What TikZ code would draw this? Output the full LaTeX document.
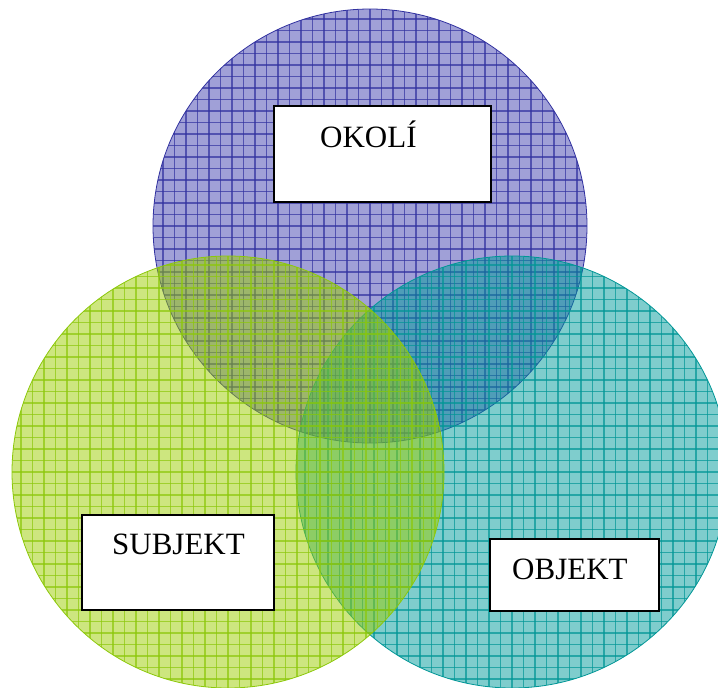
\documentclass[tikz,border=0pt]{standalone}
\usepackage{fontspec}
\setmainfont{Liberation Serif}
\definecolor{lilac}{RGB}{65,65,175}
\definecolor{lilacline}{RGB}{50,50,160}
\definecolor{lime}{RGB}{155,205,0}
\definecolor{limeline}{RGB}{140,200,10}
\definecolor{sea}{RGB}{0,155,155}
\definecolor{sealine}{RGB}{0,150,150}
\tikzset{
  labelbox/.style={draw=black, line width=2pt, fill=white, rectangle, inner sep=0pt},
  labeltext/.style={anchor=base west, inner sep=0pt, font=\fontsize{31pt}{36pt}\selectfont},
}
% one hatched, translucent disc: centre x, centre y, radius, fill colour, line colour
\newcommand{\griddisc}[5]{%
  \begin{scope}
    \fill[#4, fill opacity=0.5] (#1,#2) circle[radius=#3];
    \clip (#1,#2) circle[radius=#3];
    \foreach \k in {-20,...,20}{
      \draw[#5, line width=1.1pt, opacity=0.7] ({#1+11.5*\k},{#2-#3}) -- ({#1+11.5*\k},{#2+#3});
      \draw[#5, line width=1.1pt, opacity=0.7] ({#1-#3},{#2+11.5*\k}) -- ({#1+#3},{#2+11.5*\k});
    }
  \end{scope}
  \draw[#5, line width=0.8pt] (#1,#2) circle[radius=#3];
}
\begin{document}
\begin{tikzpicture}[x=1pt, y=-1pt]
  \useasboundingbox (0,0) rectangle (718,688);
  \begin{scope}
    \clip (0,0) rectangle (718,688);
    \griddisc{370}{226}{217}{lilac}{lilacline}
    \griddisc{512}{472}{216}{sea}{sealine}
    \griddisc{228}{472}{216}{lime}{limeline}
  \end{scope}

  % OKOLÍ
  \node[labelbox, minimum width=217pt, minimum height=96pt] (okolibox) at (382.5,154) {};
  \node[labeltext] (okoli) at (320,147) {OKOLÍ};
  % SUBJEKT
  \node[labelbox, minimum width=192pt, minimum height=95pt] (subjektbox) at (178,562.5) {};
  \node[labeltext] (subjekt) at (112,554) {SUBJEKT};
  % OBJEKT
  \node[labelbox, minimum width=169pt, minimum height=72pt] (objektbox) at (574.5,575) {};
  \node[labeltext] (objekt) at (512,579) {OBJEKT};
\end{tikzpicture}
\end{document}
